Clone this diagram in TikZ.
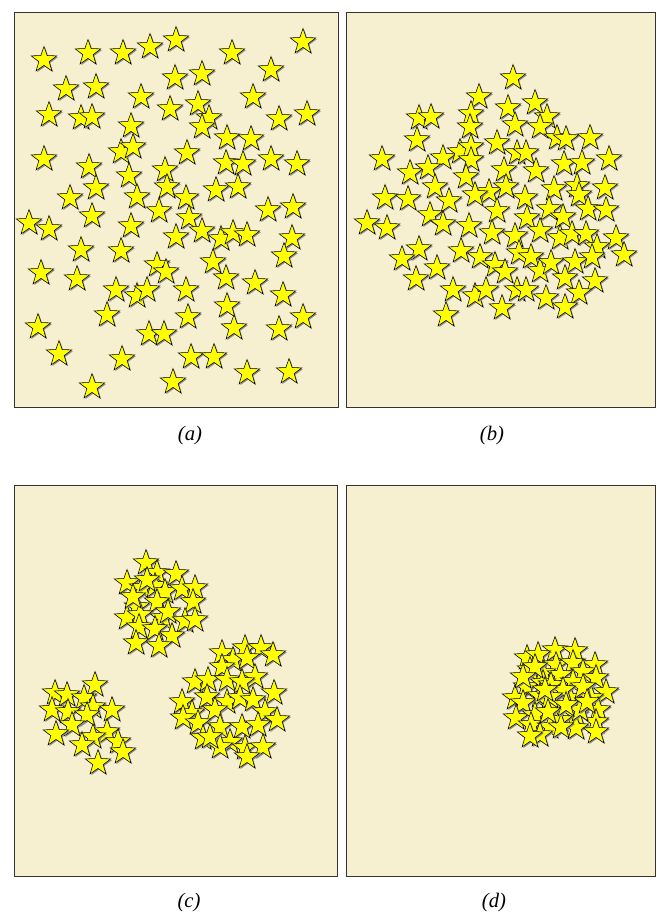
\documentclass[tikz,border=0pt]{standalone}
\usepackage{fontspec}
\setmainfont{Liberation Serif}
\definecolor{panelbg}{RGB}{247,240,208}
\definecolor{staryellow}{RGB}{255,255,0}

\begin{document}
\begin{tikzpicture}[
    x=0.75pt,y=-0.75pt,
    panel/.style={draw=black!80,fill=panelbg,line width=0.6pt},
    caption/.style={font=\fontsize{15.5}{18}\selectfont\itshape},
    sparkle/.pic={
      \fill[black!45,shift={(1.2,1.2)}] (-90:13.5)
        foreach \k in {0,...,4} {-- (-54+72*\k:5.4) -- (-18+72*\k:13.5)} -- cycle;
      \filldraw[fill=staryellow,draw=black,line width=0.4pt,line join=miter] (-90:13.5)
        foreach \k in {0,...,4} {-- (-54+72*\k:5.4) -- (-18+72*\k:13.5)} -- cycle;
    }
  ]
  \useasboundingbox (0,0) rectangle (656,912);

  % panels
  \path[panel] (14,12.7) rectangle (338,407.5);
  \path[panel] (346,12.7) rectangle (655.5,407.5);
  \path[panel] (14,485.7) rectangle (337.7,876);
  \path[panel] (346,485.7) rectangle (655.5,876);

  % (a) uniform spread
  \foreach \x/\y in {44/60,88/53,123/53,150/47,176/40,232/53,303/42,66/89,96/87,175/78,
      202/74,271/70,141/97,253/97,49/115,81/118,92/117,170/109,198/104,209/118,202/127,
      279/119,307/114,131/126,227/138,251/139,44/159,121/152,133/147,187/153,226/163,
      243/164,271/159,297/164,89/167,129/176,165/170,167/187,96/188,216/190,238/187,
      70/198,137/197,186/198,159/211,268/210,293/207,92/216,189/218,29/223,49/229,
      131/226,202/231,176/237,221/239,233/233,247/235,292/238,81/250,121/251,284/256,
      213/262,41/273,157/265,166/272,77/279,226/278,255/283,116/290,137/296,147/290,
      186/290,283/295,107/315,227/306,188/317,303/317,38/327,234/328,279/329,149/334,
      164/334,59/354,122/359,191/357,214/357,247/373,289/372,92/387,173/382}
    \pic at (\x,\y) {sparkle};

  % (b) one loose cloud
  \foreach \x/\y in {513/78,479/97,535/103,471/114,508/108,419/118,431/117,515/125,547/117,
      540/127,470/127,417/140,497/143,557/138,566/139,590/138,382/159,443/158,460/152,
      471/147,471/160,517/153,526/153,536/171,564/164,582/163,609/159,410/173,428/168,
      466/177,504/170,435/187,489/192,506/187,554/189,577/186,605/188,385/198,408/199,
      449/201,475/195,525/198,579/195,497/211,549/209,588/209,606/210,430/215,443/224,
      527/218,563/217,367/223,387/228,469/226,492/233,515/236,540/231,560/238,572/234,
      586/234,616/238,597/247,624/255,419/249,402/259,461/251,480/257,495/265,505/272,
      519/253,531/257,540/271,551/263,575/262,592/257,437/268,416/279,565/278,595/281,
      453/290,475/296,486/290,517/290,526/290,546/298,579/293,502/308,565/307,446/315}
    \pic at (\x,\y) {sparkle};

  % (c) three clusters
  \foreach \x/\y in {146/563,157/573,176/574,127/583,142/588,155/586,165/592,182/589,
      195/588,193/602,137/607,157/602,127/618,140/615,163/618,168/612,185/621,195/620,
      139/627,155/629,172/636,136/643,159/646,147/580,133/597,
      55/693,67/695,95/685,84/698,52/710,68/712,93/707,112/710,87/715,72/725,56/734,
      107/732,93/737,82/745,118/742,123/752,98/763,
      222/653,245/648,261/648,273/655,233/660,247/658,222/667,255/677,195/682,208/680,
      227/680,242/682,274/693,207/697,227/702,240/698,253/700,182/702,192/713,215/710,
      265/712,183/718,198/723,220/727,242/727,258/725,277/720,203/738,230/742,220/747,
      245/748,263/747,247/757,210/737}
    \pic at (\x,\y) {sparkle};

  % (d) one tight cluster
  \foreach \x/\y in {555/650,575/651,527/658,538/655,530/670,556/665,573/663,595/665,
      583/672,543/673,560/675,596/678,526/687,543/683,573/682,551/685,606/692,515/698,
      540/696,570/698,591/698,523/703,553/708,598/710,516/718,535/715,576/715,560/720,
      596/722,531/725,550/727,576/728,596/732,540/735,530/736,561/727,583/687,563/690,
      535/667,550/697,580/710,523/677,566/705,548/712,587/702,545/690}
    \pic at (\x,\y) {sparkle};

  % captions
  \node[caption] (capa) at (190,436) {(a)};
  \node[caption] (capb) at (492,436) {(b)};
  \node[caption] (capc) at (189,903) {(c)};
  \node[caption] (capd) at (494,903) {(d)};
\end{tikzpicture}
\end{document}
